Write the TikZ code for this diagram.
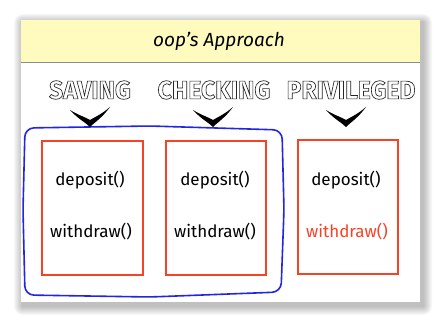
\documentclass[tikz,border=0pt]{standalone}
\usepackage{fontspec}
\setsansfont{Fira Sans}
\usetikzlibrary{positioning}
\definecolor{cred}{RGB}{246,66,38}
\definecolor{cblue}{RGB}{36,36,230}
\definecolor{lightyellow}{RGB}{255,251,190}

% hollow lettering: white fill, dark stroke (text render mode 2)
\newcommand{\outlined}[1]{\textcolor{white}{\special{pdf:literal direct 0.15 0.15 0.15 RG 0.5 w 2 Tr}#1\special{pdf:literal direct 0 Tr}}}

\begin{document}
\begin{tikzpicture}[x=1pt, y=-1pt,
    classbox/.style={minimum width=100pt, minimum height=134pt, inner sep=0pt},
    frame/.style={draw=cred, line width=1.8pt},
    method/.style={font=\sffamily\fontsize{17}{18}\selectfont},
    classname/.style={font=\sffamily\bfseries\fontsize{19}{20}\selectfont, inner sep=0pt, xscale=1.3, yscale=1.35, transform shape},
    chev/.pic={\fill[black] (-20,0) .. controls (-12,9) and (-5,12) .. (0,17)
        .. controls (5,12) and (12,8) .. (20,-3)
        .. controls (12,4) and (5,7) .. (0,10)
        .. controls (-5,7) and (-12,5) .. (-20,0) -- cycle;},
]
    \useasboundingbox (0,0) rectangle (440,323);

    % soft shadow under the card
    \foreach \i in {1,...,9}
        \fill[black, opacity=0.03, rounded corners=\i pt] (23-\i,23-\i) rectangle (423+\i,306+\i);
    \fill[white] (21,20) rectangle (420,302);

    % header band
    \fill[lightyellow] (21,20) rectangle (420,62);
    \draw[black!45, line width=0.6pt] (21,62) -- (420,62);
    \node[font=\sffamily\itshape\fontsize{19}{21}\selectfont] (title) at (219,41) {oop's Approach};

    % account classes
    \node[classbox] (box1) at (92.5,208) {};
    \node[classbox] (box2) at (216,208) {};
    \node[classbox] (box3) at (348,207) {};
    \foreach \b in {box1,box2,box3}
        \draw[frame] (\b.south west) rectangle (\b.north east);

    \node[method] (dep1) at (90,180) {deposit()};
    \node[method] (wd1) at (91,232) {withdraw()};
    \node[method] (dep2) at (215,180) {deposit()};
    \node[method] (wd2) at (215,232) {withdraw()};
    \node[method] (dep3) at (346,180) {deposit()};
    \node[method, text=cred] (wd3) at (347,232) {withdraw()};

    % grouping of the two similar accounts
    \draw[cblue, line width=1.6pt, rounded corners=9pt]
        (25,128) -- (150,126) -- (282,130) -- (284,210) -- (281,292) -- (150,297) -- (25,295) -- (23,210) -- cycle;

    % class names
    \node[classname] (saving) at (90,90) {\outlined{SAVING}};
    \node[classname] (checking) at (214,90) {\outlined{CHECKING}};
    \node[classname] (privileged) at (351,90) {\outlined{PRIVILEGED}};

    \pic at (90,110) {chev};
    \pic at (213,110) {chev};
    \pic at (346,110) {chev};
\end{tikzpicture}
\end{document}
